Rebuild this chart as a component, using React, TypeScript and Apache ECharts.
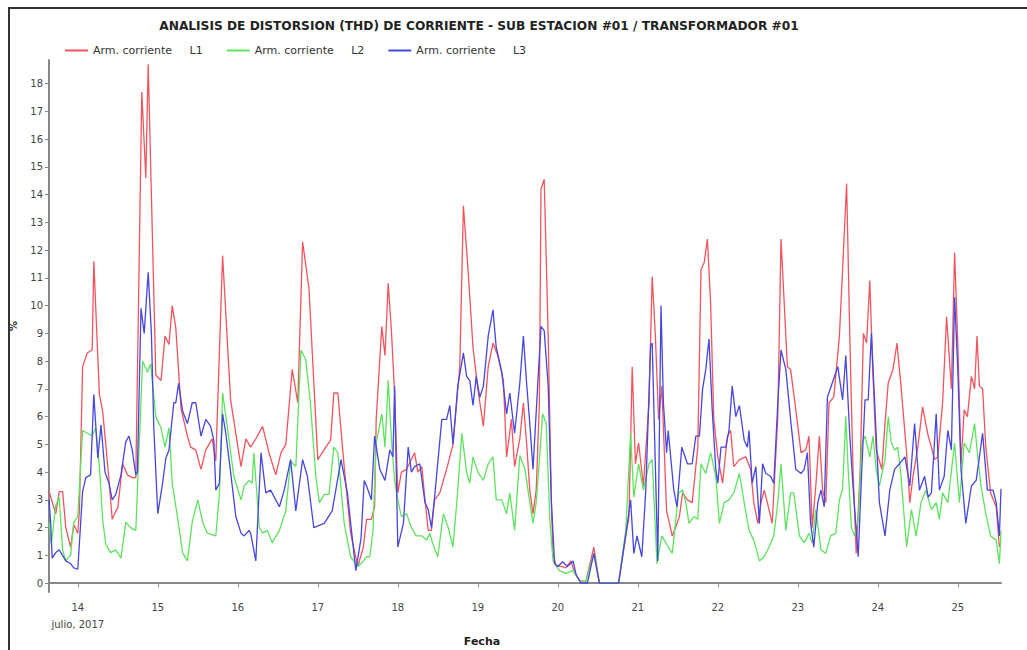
import React, { useEffect, useRef } from "react";
import * as echarts from "echarts";

const chartTitle = "ANALISIS DE DISTORSION (THD) DE CORRIENTE - SUB ESTACION #01 / TRANSFORMADOR #01";
const seriesNames = ["Arm. corriente     L1", "Arm. corriente     L2", "Arm. corriente     L3"];
const seriesColors = ["#f2545e", "#5ee35e", "#4646e0"];
const dayTicks = [14, 15, 16, 17, 18, 19, 20, 21, 22, 23, 24, 25];
const yTicks = [0, 1, 2, 3, 4, 5, 6, 7, 8, 9, 10, 11, 12, 13, 14, 15, 16, 17, 18];
const monthLabel = "julio, 2017";
const xName = "Fecha";
const yName = "%";

// [day of July 2017 (decimal), THD %]
const l1: [number, number][] = [
  [13.64, 3.3], [13.725, 2.5], [13.767, 3.3], [13.81, 3.3], [13.85, 2.0], [13.91, 1.3], [13.95, 2.1], [14.0, 1.8], [14.02, 2.6], [14.06, 7.8], [14.12, 8.3], [14.18, 8.4], [14.2, 11.6], [14.27, 6.8], [14.31, 6.2], [14.35, 5.0], [14.39, 3.7], [14.43, 2.3], [14.475, 2.6], [14.5, 2.7], [14.56, 4.3], [14.62, 3.9], [14.68, 3.8], [14.725, 3.8], [14.8, 17.7], [14.85, 14.6], [14.88, 18.7], [14.975, 7.5], [15.04, 7.3], [15.09, 8.9], [15.14, 8.6], [15.18, 10.0], [15.225, 9.2], [15.29, 6.3], [15.37, 5.3], [15.41, 4.9], [15.475, 4.8], [15.54, 4.1],
  [15.6, 4.8], [15.68, 5.2], [15.725, 4.4], [15.81, 11.8], [15.91, 6.6], [16.04, 4.2], [16.1, 5.2], [16.16, 4.9], [16.225, 5.2], [16.31, 5.65], [16.39, 4.7], [16.475, 3.9], [16.54, 4.7], [16.6, 5.0], [16.68, 7.7], [16.75, 6.5], [16.81, 12.3], [16.89, 10.6], [17.0, 4.45], [17.1, 4.9], [17.16, 5.15], [17.2, 6.85], [17.25, 6.85], [17.33, 4.2], [17.41, 1.8], [17.5, 0.6],
  [17.57, 1.3], [17.61, 2.3], [17.67, 2.3], [17.71, 2.75], [17.73, 5.9], [17.8, 9.25], [17.84, 8.2], [17.88, 10.8], [17.92, 9.1], [17.96, 6.85], [18.0, 3.25], [18.045, 4.0], [18.11, 4.1], [18.21, 4.7], [18.25, 4.0], [18.3, 4.2], [18.34, 3.0], [18.38, 1.9], [18.42, 1.9], [18.46, 3.0], [18.525, 3.25], [18.61, 4.1], [18.69, 5.0], [18.775, 7.8], [18.82, 13.6], [18.88, 11.2], [18.94, 8.5], [19.0, 7.0], [19.07, 5.65], [19.13, 7.8], [19.19, 8.65], [19.25, 8.2], [19.32, 7.3], [19.36, 4.55], [19.42, 5.9], [19.46, 4.2], [19.525, 5.2],
  [19.57, 6.5], [19.61, 5.05], [19.65, 3.35], [19.69, 2.5], [19.73, 3.35], [19.77, 6.5], [19.79, 14.2], [19.83, 14.55], [19.88, 8.9], [19.92, 2.9], [19.94, 1.07], [19.98, 0.6], [20.04, 0.6], [20.1, 0.55], [20.165, 0.8], [20.21, 0.35], [20.27, 0.1], [20.35, 0.05], [20.45, 1.3], [20.52, 0], [20.64, 0], [20.76, 0], [20.85, 1.7], [20.89, 2.4], [20.93, 7.8], [20.97, 4.3], [21.01, 5.05], [21.07, 3.5], [21.14, 6.5], [21.18, 11.05], [21.22, 8.9], [21.26, 5.9], [21.3, 7.1], [21.36, 2.6], [21.43, 1.7], [21.49, 2.15],
  [21.52, 2.4], [21.56, 3.25], [21.62, 3.0], [21.68, 2.9], [21.75, 4.9], [21.79, 11.3], [21.83, 11.55], [21.87, 12.4], [21.91, 10.1], [21.95, 5.9], [22.0, 4.55], [22.06, 3.6], [22.12, 5.3], [22.16, 5.5], [22.2, 4.2], [22.27, 4.45], [22.35, 4.55], [22.41, 4.1], [22.45, 2.9], [22.5, 2.15], [22.54, 2.9], [22.58, 3.35], [22.62, 2.9], [22.68, 2.15], [22.75, 6.0], [22.79, 12.4], [22.83, 10.1], [22.87, 7.8], [22.91, 7.7], [22.975, 6.25], [23.04, 4.7], [23.1, 4.8], [23.14, 5.3], [23.18, 2.0], [23.225, 3.5], [23.27, 5.3], [23.31, 3.35], [23.35, 2.9], [23.39, 6.5], [23.45, 6.7], [23.52, 8.9],
  [23.56, 11.3], [23.61, 14.4], [23.65, 8.9], [23.69, 4.1], [23.73, 1.07], [23.78, 4.1], [23.82, 9.0], [23.86, 8.65], [23.9, 10.9], [23.94, 7.45], [23.98, 4.8], [24.05, 4.1], [24.09, 5.75], [24.13, 7.2], [24.19, 7.7], [24.24, 8.65], [24.29, 7.1], [24.36, 4.7], [24.4, 2.9], [24.44, 3.85], [24.5, 4.9], [24.56, 6.35], [24.63, 5.3], [24.67, 4.9], [24.71, 4.45], [24.75, 4.55], [24.81, 6.5], [24.86, 9.6], [24.92, 7.0], [24.96, 11.9], [25.0, 8.65], [25.04, 4.3], [25.08, 6.25], [25.12, 6.0], [25.17, 7.45], [25.21, 7.0], [25.24, 8.9], [25.27, 7.1], [25.31, 7.0], [25.35, 4.9], [25.41, 3.25], [25.48, 2.75], [25.52, 1.3], [25.54, 1.5],
];

const l2: [number, number][] = [
  [13.64, 2.2], [13.667, 1.4], [13.725, 2.8], [13.767, 3.1], [13.81, 1.2], [13.85, 0.8], [13.91, 1.0], [13.95, 2.2], [14.0, 2.4], [14.06, 5.5], [14.12, 5.4], [14.18, 5.3], [14.225, 5.6], [14.27, 4.2], [14.31, 2.3], [14.35, 1.4], [14.41, 1.1], [14.475, 1.2], [14.54, 0.9], [14.6, 2.2], [14.66, 2.0], [14.725, 1.9], [14.81, 8.0], [14.87, 7.6], [14.91, 7.9], [14.975, 6.0], [15.04, 5.6], [15.09, 4.9], [15.14, 5.6], [15.18, 3.6], [15.25, 2.3], [15.31, 1.1], [15.37, 0.8], [15.43, 2.2], [15.5, 3.0], [15.56, 2.2],
  [15.62, 1.8], [15.725, 1.7], [15.77, 3.2], [15.81, 6.85], [15.87, 5.6], [15.95, 3.85], [16.04, 3.0], [16.08, 3.5], [16.14, 3.7], [16.18, 3.6], [16.2, 4.7], [16.27, 2.0], [16.31, 1.8], [16.37, 1.9], [16.43, 1.45], [16.52, 1.9], [16.6, 2.6], [16.66, 4.4], [16.725, 4.2], [16.79, 8.4], [16.85, 8.05], [16.91, 6.4], [16.975, 3.85], [17.02, 2.9], [17.08, 3.2], [17.14, 3.2], [17.2, 4.9], [17.25, 4.7], [17.33, 2.15], [17.41, 0.95], [17.5, 0.6],
  [17.57, 0.8], [17.61, 0.95], [17.65, 0.95], [17.69, 1.9], [17.73, 5.05], [17.8, 6.1], [17.84, 4.9], [17.88, 7.3], [17.92, 5.2], [17.96, 3.7], [18.0, 3.0], [18.045, 2.4], [18.11, 2.5], [18.17, 2.0], [18.23, 1.7], [18.3, 1.7], [18.36, 1.55], [18.4, 1.8], [18.44, 1.4], [18.5, 0.95], [18.57, 2.5], [18.63, 2.0], [18.69, 1.3], [18.75, 3.35], [18.8, 5.4], [18.86, 4.0], [18.9, 3.6], [18.94, 4.55], [19.0, 4.0], [19.07, 3.7], [19.13, 4.3], [19.19, 4.55], [19.23, 3.0], [19.3, 3.0], [19.36, 2.5], [19.4, 3.25], [19.46, 1.9], [19.525, 4.6],
  [19.59, 4.1], [19.65, 2.9], [19.69, 2.15], [19.73, 2.9], [19.77, 4.45], [19.81, 6.1], [19.855, 5.75], [19.9, 2.3], [19.94, 0.8], [20.02, 0.45], [20.1, 0.35], [20.19, 0.45], [20.27, 0.1], [20.35, 0.05], [20.45, 1.07], [20.52, 0], [20.76, 0], [20.85, 1.9], [20.91, 5.4], [20.95, 3.1], [21.01, 4.3], [21.07, 3.35], [21.14, 4.3], [21.18, 4.45], [21.24, 0.7], [21.3, 1.7], [21.36, 1.4], [21.43, 1.07], [21.51, 3.25],
  [21.56, 3.35], [21.6, 2.9], [21.64, 2.15], [21.7, 2.4], [21.75, 2.3], [21.79, 4.3], [21.85, 3.95], [21.91, 4.7], [21.975, 3.85], [22.02, 2.15], [22.08, 2.9], [22.14, 3.0], [22.2, 3.25], [22.27, 3.95], [22.33, 2.9], [22.39, 1.9], [22.45, 1.55], [22.52, 0.8], [22.58, 0.95], [22.64, 1.3], [22.7, 1.7], [22.75, 2.9], [22.79, 4.3], [22.85, 1.9], [22.91, 3.25], [22.95, 3.25], [23.02, 1.7], [23.08, 1.45], [23.14, 1.8], [23.18, 1.45], [23.225, 2.65], [23.29, 1.2], [23.35, 1.07], [23.41, 1.7], [23.475, 1.8], [23.52, 3.0], [23.56, 3.4], [23.6, 6.0],
  [23.63, 4.1], [23.67, 2.0], [23.71, 1.7], [23.755, 2.3], [23.8, 5.05], [23.84, 5.3], [23.9, 4.55], [23.94, 5.3], [23.98, 4.1], [24.02, 3.5], [24.09, 4.45], [24.13, 6.0], [24.17, 5.05], [24.21, 4.8], [24.25, 4.9], [24.29, 3.85], [24.36, 1.3], [24.42, 2.65], [24.48, 1.7], [24.54, 2.9], [24.6, 3.35], [24.67, 2.65], [24.73, 2.9], [24.77, 2.3], [24.81, 3.25], [24.875, 2.9], [24.96, 5.05], [25.02, 2.9], [25.08, 5.05], [25.145, 4.7], [25.21, 5.75], [25.25, 4.55], [25.29, 3.5], [25.35, 2.5], [25.41, 1.7], [25.48, 1.55], [25.52, 0.7], [25.54, 1.9],
];

const l3: [number, number][] = [
  [13.64, 3.0], [13.66, 2.2], [13.68, 0.9], [13.725, 1.1], [13.767, 1.2], [13.81, 1.0], [13.85, 0.8], [13.91, 0.7], [13.95, 0.55], [14.0, 0.5], [14.06, 3.3], [14.1, 3.8], [14.16, 3.9], [14.2, 6.8], [14.25, 4.5], [14.29, 5.7], [14.34, 4.0], [14.39, 3.6], [14.43, 3.0], [14.475, 3.2], [14.54, 3.9], [14.6, 5.1], [14.64, 5.3], [14.68, 4.8], [14.725, 3.9], [14.745, 4.0], [14.79, 9.9], [14.83, 9.0], [14.88, 11.2], [14.92, 9.0], [14.95, 5.6], [15.0, 2.5], [15.06, 3.6], [15.1, 4.5], [15.14, 4.8], [15.2, 6.5], [15.225, 6.5], [15.26, 7.2], [15.31, 6.2], [15.37, 5.75], [15.43, 6.5], [15.475, 6.5], [15.54, 5.3],
  [15.6, 5.9], [15.66, 5.65], [15.7, 5.15], [15.725, 3.35], [15.77, 3.6], [15.81, 6.1], [15.85, 5.4], [15.91, 4.0], [15.975, 2.4], [16.04, 1.8], [16.08, 1.7], [16.14, 1.9], [16.16, 1.8], [16.225, 0.8], [16.29, 4.7], [16.35, 3.25], [16.41, 3.35], [16.52, 2.75], [16.58, 3.35], [16.66, 4.45], [16.725, 2.6], [16.81, 4.45], [16.87, 3.85], [16.95, 2.0], [17.08, 2.15], [17.18, 2.6], [17.29, 4.45], [17.37, 3.25], [17.475, 0.45],
  [17.54, 1.6], [17.58, 3.7], [17.61, 3.5], [17.67, 3.0], [17.71, 5.3], [17.775, 4.1], [17.84, 3.7], [17.9, 4.8], [17.94, 4.55], [17.96, 7.1], [18.0, 1.3], [18.07, 2.15], [18.13, 4.9], [18.17, 4.0], [18.21, 4.2], [18.275, 4.3], [18.34, 2.9], [18.38, 2.65], [18.42, 2.0], [18.46, 3.1], [18.55, 5.9], [18.61, 5.9], [18.65, 6.4], [18.69, 5.0], [18.75, 7.1], [18.82, 8.3], [18.86, 7.45], [18.9, 7.3], [18.94, 6.4], [18.98, 7.45], [19.025, 6.7], [19.07, 7.1], [19.13, 8.9], [19.19, 9.85], [19.23, 8.5], [19.3, 7.6], [19.36, 6.1], [19.4, 6.85], [19.46, 5.4], [19.525, 7.2], [19.57, 8.9],
  [19.61, 7.2], [19.65, 5.75], [19.69, 4.1], [19.79, 9.25], [19.83, 9.1], [19.88, 7.1], [19.92, 2.9], [19.96, 0.7], [20.0, 0.6], [20.06, 0.77], [20.12, 0.6], [20.19, 0.8], [20.23, 0.3], [20.29, 0], [20.37, 0], [20.45, 1.07], [20.52, 0], [20.76, 0], [20.87, 2.15], [20.91, 3.0], [20.95, 1.07], [20.99, 1.7], [21.05, 0.95], [21.1, 3.35], [21.16, 8.55], [21.18, 8.65], [21.25, 0.8], [21.29, 10.0], [21.32, 6.5], [21.36, 4.7], [21.38, 5.5], [21.45, 3.35], [21.49, 2.75], [21.55, 4.9],
  [21.62, 4.3], [21.68, 4.3], [21.725, 5.3], [21.77, 5.3], [21.81, 7.0], [21.85, 7.7], [21.89, 8.8], [21.93, 6.25], [21.975, 4.1], [22.0, 3.6], [22.04, 4.9], [22.1, 4.9], [22.14, 5.5], [22.18, 7.1], [22.225, 6.0], [22.27, 6.4], [22.33, 5.15], [22.37, 4.9], [22.39, 5.5], [22.43, 3.6], [22.475, 4.2], [22.52, 2.15], [22.56, 4.3], [22.6, 3.95], [22.66, 3.85], [22.7, 3.6], [22.75, 6.5], [22.79, 8.4], [22.85, 7.7], [22.91, 5.9], [22.975, 4.1], [23.04, 3.95], [23.08, 4.1], [23.12, 4.7], [23.16, 2.15], [23.2, 1.3], [23.25, 2.9], [23.29, 3.35], [23.33, 2.75], [23.37, 6.7], [23.43, 7.2], [23.5, 7.8], [23.56, 6.6], [23.6, 8.2],
  [23.65, 5.3], [23.69, 3.5], [23.755, 0.95], [23.8, 4.1], [23.84, 6.6], [23.88, 6.6], [23.92, 9.0], [23.98, 5.3], [24.02, 2.9], [24.09, 1.7], [24.15, 3.35], [24.21, 4.1], [24.27, 4.3], [24.34, 4.55], [24.4, 3.5], [24.46, 5.75], [24.52, 3.35], [24.585, 3.85], [24.63, 3.1], [24.67, 3.25], [24.73, 6.1], [24.77, 3.35], [24.83, 3.85], [24.875, 5.5], [24.92, 4.8], [24.96, 10.3], [25.0, 7.7], [25.04, 4.1], [25.1, 2.15], [25.17, 3.5], [25.23, 3.7], [25.31, 5.4], [25.37, 3.35], [25.44, 3.35], [25.48, 2.9], [25.52, 1.7], [25.54, 3.4],
];

const seriesData = [l1, l2, l3];

export default function App() {
  const ref = useRef<HTMLDivElement>(null);
  useEffect(() => {
    document.body.style.margin = "0";
    if (!ref.current) return;
    const chart = echarts.init(ref.current, undefined, { renderer: "svg" });
    const font = "DejaVu Sans, Verdana, sans-serif";
    chart.setOption({
      animation: false,
      backgroundColor: "#ffffff",
      textStyle: { fontFamily: font },
      title: {
        text: chartTitle,
        left: 474,
        textAlign: "center",
        top: 15,
        textStyle: { fontSize: 12.2, fontWeight: "bold", color: "#222", fontFamily: font },
      },
      legend: {
        left: 60,
        top: 40,
        itemWidth: 23,
        itemHeight: 2,
        itemGap: 24,
        icon: "rect",
        textStyle: { fontSize: 11, color: "#333", fontFamily: font },
        data: seriesNames,
      },
      grid: { left: 48, right: 26, top: 60, bottom: 58, containLabel: false },
      xAxis: {
        type: "value",
        min: 13.64,
        max: 25.54,
        axisLine: { show: true, lineStyle: { color: "#888", width: 2 } },
        axisTick: { show: true, length: 4, lineStyle: { color: "#888" }, customValues: dayTicks },
        splitLine: { show: false },
        axisLabel: {
          customValues: dayTicks,
          fontSize: 10,
          color: "#444",
          margin: 7,
          lineHeight: 17,
          formatter: (v: number) => (Math.round(v) === dayTicks[0] ? `${Math.round(v)}\n${monthLabel}` : `${Math.round(v)}`),
        },
      },
      yAxis: {
        type: "value",
        min: -0.32,
        max: 18.85,
        name: yName,
        nameLocation: "middle",
        nameRotate: 90,
        nameGap: 31,
        nameTextStyle: { fontSize: 10, color: "#333", fontWeight: "bold" },
        axisLine: { show: true, lineStyle: { color: "#888", width: 2 } },
        axisTick: { show: true, length: 4, lineStyle: { color: "#888" }, customValues: yTicks },
        splitLine: { show: false },
        axisLabel: { customValues: yTicks, fontSize: 10, color: "#444", margin: 6 },
      },
      graphic: [
        {
          type: "rect",
          shape: { x: 9, y: 8, width: 1040, height: 670 },
          style: { fill: "none", stroke: "#333", lineWidth: 2 },
          silent: true,
        },
        {
          type: "text",
          x: 482,
          y: 641,
          style: { text: xName, font: `bold 11px ${font}`, fill: "#222", textAlign: "center", textVerticalAlign: "middle" },
        },
      ],
      series: seriesData.map((d, i) => ({
        name: seriesNames[i],
        type: "line",
        data: d,
        showSymbol: false,
        symbol: "none",
        lineStyle: { color: seriesColors[i], width: 1.3 },
        itemStyle: { color: seriesColors[i] },
      })),
    });
    return () => chart.dispose();
  }, []);
  return <div ref={ref} style={{ width: 1027, height: 650 }} />;
}
